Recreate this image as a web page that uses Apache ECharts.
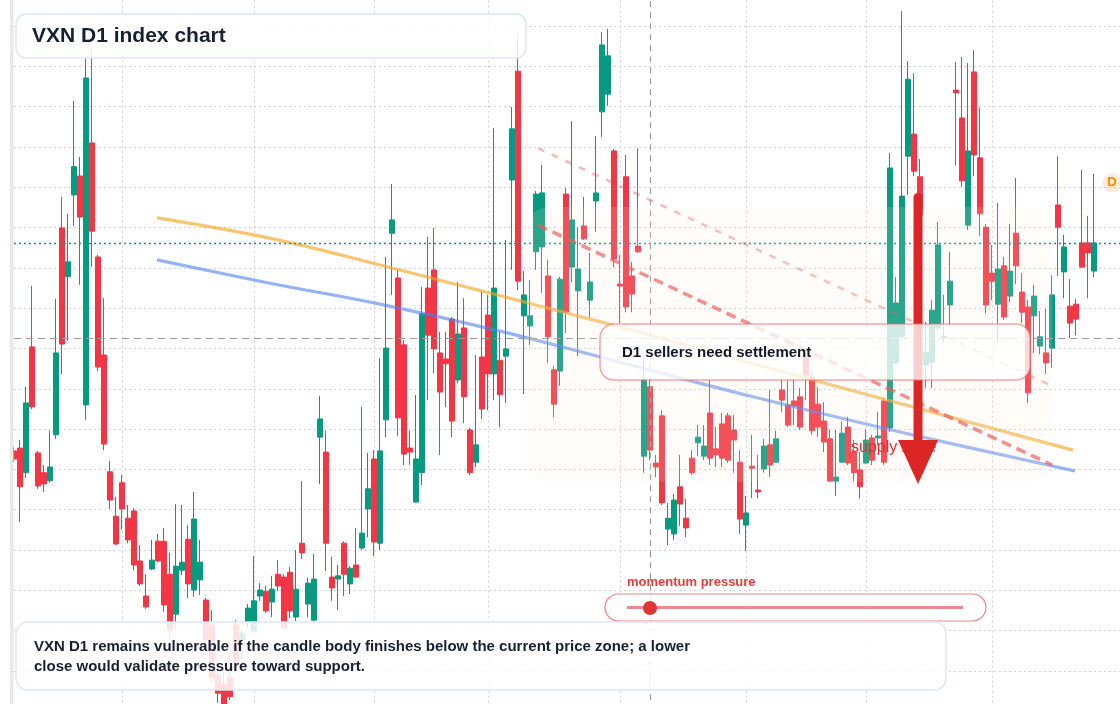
<!DOCTYPE html>
<html>
<head>
<meta charset="utf-8">
<script src="https://cdn.jsdelivr.net/npm/echarts@6/dist/echarts.min.js"></script>
<style>
  html, body { margin: 0; padding: 0; background: #fff; overflow: hidden; width: 1120px; height: 704px; }
  /* the plot runs a little past the visible page on every side except the left */
  #chart { position: absolute; left: 0; top: -15px; width: 1130px; height: 728px; }
</style>
</head>
<body>
<div id="chart"></div>
<script>
// trading sessions per month (last month includes a few empty slots on the right)
const monthNames = ["Jan", "Feb", "Mar", "Apr", "May", "Jun", "Jul", "Aug", "Sep"];
const monthSessions = [18, 22, 20, 19, 22, 21, 20, 21, 23];

const opens = [
  22.46, 22.53, 21.92, 25.04, 22.41, 21.92, 21.72, 22.86, 27.99, 26.78,
  28.81, 29.28, 23.60, 30.10, 27.27, 24.84, 21.94, 20.84, 21.67, 20.79,
  20.97, 19.73, 18.86, 19.53, 20.22, 20.22, 19.40, 18.41, 19.50, 20.27,
  19.01, 19.26, 18.76, 18.14, 16.90, 16.68, 16.85, 18.14, 17.77, 18.21,
  17.99, 18.86, 18.98, 18.71, 19.40, 19.33, 19.45, 18.34, 20.17, 18.66,
  18.26, 22.80, 22.43, 19.33, 19.28, 20.17, 19.16, 19.63, 20.05, 21.02,
  22.26, 20.17, 23.23, 27.86, 26.75, 25.09, 22.53, 21.19, 21.92, 26.50,
  26.95, 24.89, 24.74, 25.73, 24.22, 25.51, 22.98, 22.18, 24.79, 25.83,
  24.37, 24.71, 24.81, 29.18, 31.88, 25.81, 25.56, 27.40, 27.52, 26.80,
  24.47, 24.44, 28.83, 27.02, 26.43, 28.04, 26.20, 28.66, 30.87, 31.31,
  29.90, 26.60, 29.26, 26.80, 27.54, 22.33, 24.05, 22.16, 23.33, 20.52,
  20.40, 21.57, 20.79, 22.28, 22.66, 22.33, 23.40, 22.51, 23.13, 23.33,
  22.98, 22.18, 20.62, 22.08, 21.49, 22.01, 22.61, 22.18, 23.97, 23.60,
  23.70, 23.80, 24.79, 24.29, 23.62, 23.20, 22.76, 21.71, 22.18, 23.05,
  22.43, 21.99, 22.16, 22.78, 22.78, 23.70, 23.03, 24.64, 25.29, 29.77,
  30.32, 29.26, 24.59, 24.66, 25.51, 25.26, 26.08, 31.41, 30.72, 28.06,
  31.86, 29.73, 28.01, 26.87, 26.10, 27.05, 26.30, 27.86, 26.40, 26.03,
  25.81, 25.06, 24.89, 25.01, 28.56, 26.90, 26.05, 26.10, 27.62, 27.62, 26.92
];
const closes = [
  22.26, 21.57, 23.65, 23.55, 21.59, 21.64, 22.06, 24.89, 25.11, 27.15,
  29.51, 28.26, 31.71, 27.91, 24.54, 22.63, 21.24, 20.15, 21.02, 20.25,
  19.63, 19.16, 18.59, 19.75, 19.73, 18.64, 18.02, 19.60, 19.70, 19.16,
  20.77, 19.70, 17.77, 16.83, 16.45, 16.18, 16.36, 17.20, 17.94, 18.56,
  18.74, 19.01, 18.49, 19.03, 19.11, 18.07, 18.49, 19.03, 19.93, 19.18,
  19.28, 23.25, 20.17, 19.06, 19.36, 19.40, 19.55, 19.33, 20.42, 21.52,
  20.20, 22.46, 25.01, 28.19, 23.28, 22.38, 22.43, 22.26, 25.86, 25.33,
  24.99, 23.92, 24.62, 23.20, 25.36, 23.80, 21.92, 22.61, 23.50, 24.37,
  26.50, 23.85, 24.99, 30.45, 26.67, 26.33, 25.81, 28.83, 28.86, 25.29,
  23.62, 26.72, 25.90, 28.19, 26.97, 27.72, 26.65, 28.86, 32.53, 32.26,
  27.22, 26.55, 26.03, 26.35, 27.40, 24.22, 22.48, 22.06, 21.17, 20.79,
  21.24, 21.14, 20.55, 21.92, 22.80, 22.58, 22.28, 22.36, 22.28, 22.23,
  22.73, 20.77, 20.92, 22.03, 21.44, 22.58, 22.11, 22.76, 23.72, 23.10,
  23.57, 23.05, 24.34, 22.96, 23.05, 22.68, 21.71, 21.81, 22.90, 22.16,
  21.92, 21.57, 22.73, 22.23, 22.83, 22.18, 29.48, 26.13, 28.78, 31.68,
  29.40, 28.31, 24.91, 25.95, 27.57, 25.31, 26.67, 31.34, 29.16, 29.90,
  29.80, 28.34, 26.08, 26.67, 26.97, 25.78, 26.92, 27.05, 25.90, 23.90,
  26.30, 25.29, 24.64, 26.33, 28.01, 27.52, 25.63, 25.73, 27.02, 27.37, 27.62
];
const lows = [
  22.18, 20.69, 21.79, 23.50, 21.52, 21.44, 21.67, 22.76, 24.37, 25.19,
  28.04, 26.58, 23.23, 27.02, 24.44, 22.48, 21.02, 20.12, 20.52, 20.17,
  19.50, 19.11, 18.54, 19.50, 19.70, 18.46, 17.77, 18.02, 19.38, 18.81,
  18.84, 18.89, 17.52, 16.73, 16.21, 16.03, 16.28, 17.07, 17.27, 18.07,
  17.94, 18.74, 18.44, 18.34, 18.98, 18.02, 18.31, 18.24, 19.78, 18.34,
  18.26, 21.64, 19.48, 18.74, 18.51, 18.86, 18.91, 19.31, 20.00, 20.32,
  19.85, 20.00, 22.80, 26.33, 22.83, 22.11, 22.11, 21.17, 21.61, 23.72,
  24.39, 22.36, 23.55, 22.80, 24.14, 23.15, 21.86, 22.06, 23.25, 23.47,
  23.72, 23.05, 23.65, 26.95, 26.45, 23.87, 25.09, 26.95, 26.38, 24.64,
  23.30, 24.07, 25.38, 26.65, 24.81, 27.69, 25.76, 27.89, 30.25, 31.02,
  27.02, 25.63, 25.90, 25.90, 27.37, 21.92, 22.23, 21.81, 21.12, 20.12,
  20.25, 20.60, 20.32, 21.86, 22.33, 22.23, 22.11, 22.06, 22.06, 22.16,
  21.92, 20.40, 19.98, 21.29, 21.29, 21.92, 21.81, 22.16, 23.42, 23.05,
  23.10, 22.98, 23.72, 22.86, 22.80, 22.43, 21.69, 21.34, 22.16, 22.11,
  21.71, 21.27, 22.13, 22.11, 22.61, 22.11, 22.93, 24.62, 25.21, 28.81,
  29.28, 27.94, 24.02, 24.02, 25.46, 25.14, 25.58, 29.55, 29.01, 27.94,
  29.28, 27.79, 25.88, 26.20, 25.16, 25.71, 26.15, 26.60, 25.63, 23.65,
  24.89, 24.86, 24.37, 24.52, 26.80, 26.25, 25.26, 25.33, 27.00, 26.25, 26.77
];
const highs = [
  22.56, 22.73, 24.05, 26.55, 22.46, 22.11, 22.96, 26.23, 28.76, 28.34,
  31.14, 29.75, 32.21, 32.43, 27.32, 26.25, 22.21, 21.32, 21.86, 21.12,
  21.04, 20.12, 19.40, 20.25, 20.40, 20.55, 19.93, 21.14, 21.12, 20.62,
  21.44, 20.25, 18.81, 18.51, 17.27, 17.02, 17.40, 18.26, 18.02, 18.66,
  19.85, 19.18, 19.11, 19.36, 19.75, 19.40, 19.58, 20.00, 21.71, 19.31,
  19.90, 23.82, 22.96, 19.83, 19.63, 20.22, 19.60, 20.55, 23.55, 22.41,
  22.48, 24.76, 27.27, 29.08, 26.95, 25.21, 22.96, 23.85, 26.53, 27.77,
  27.99, 25.41, 25.41, 25.78, 26.65, 26.25, 23.03, 24.84, 26.43, 26.33,
  30.47, 25.41, 27.69, 30.99, 32.83, 26.92, 26.70, 28.91, 29.55, 27.20,
  24.57, 26.78, 28.98, 30.64, 28.01, 28.76, 27.37, 30.27, 32.85, 32.93,
  29.95, 27.32, 29.80, 27.15, 29.97, 24.76, 24.22, 22.36, 23.47, 21.17,
  21.39, 22.36, 21.27, 22.48, 23.10, 23.10, 24.22, 23.05, 23.40, 23.40,
  23.35, 22.48, 21.34, 22.86, 22.36, 22.76, 23.97, 22.96, 24.22, 24.22,
  24.22, 24.02, 24.89, 24.42, 24.05, 23.67, 22.98, 22.98, 23.18, 23.30,
  22.73, 22.43, 23.00, 22.86, 23.42, 23.77, 29.85, 26.77, 33.37, 32.13,
  31.83, 29.70, 25.66, 26.20, 28.14, 26.33, 27.39, 32.11, 32.23, 32.08,
  32.40, 30.97, 28.09, 27.57, 28.61, 27.27, 28.09, 29.23, 26.87, 26.20,
  26.58, 25.93, 25.98, 26.82, 29.77, 27.82, 26.72, 26.23, 29.43, 28.29, 29.33
];

// levels and drawings (x = session index, y = index value)
const lastClose = 27.62;
const refLevel = 25.26;
const cursorIndex = 106;
const orangeTrend = [[23.83, 28.24], [43.17, 27.72], [61.0, 27.07], [99.83, 25.58], [121.0, 24.71], [176.5, 22.48]];
const blueTrend = [[23.83, 27.20], [42.67, 26.62], [61.0, 26.10], [81.0, 25.43], [101.0, 24.66], [122.67, 23.82], [147.67, 22.93], [176.83, 21.96]];
const upperDash = [[87.33, 29.97], [173, 24.07]];
const lowerDash = [[87.33, 28.06], [173, 22.11]];
const supplyZone = [[85.5, 28.51], [173.0, 21.69]];
const arrowPos = [150.67, 28.86, 21.64];
const zoneLabelPos = [139.5, 22.53];
const markerD = [183, 29.11];

const dates = [];
const monthStarts = [];
monthNames.forEach((m, k) => {
  if (k > 0) monthStarts.push(dates.length);
  for (let d = 1; d <= monthSessions[k]; d++) dates.push(m + " " + d);
});

const ohlc = opens.map((o, i) => [o, closes[i], lows[i], highs[i]]);

const FONT = '"Liberation Sans", Arial, sans-serif';
const OY = 15; // the chart div sits 15px above the page top
const gridDots = { color: "#d2d2d2", type: [2, 3], width: 1 };

const chart = echarts.init(document.getElementById("chart"));

chart.setOption({
  animation: false,
  backgroundColor: "#ffffff",
  grid: { left: 14, right: 6, top: 0.7, bottom: 1.7 },
  xAxis: [
    {
      type: "category",
      data: dates,
      boundaryGap: false,
      axisLine: { show: false },
      axisTick: { show: false },
      axisLabel: { show: false },
      splitLine: {
        show: true,
        interval: (idx) => monthStarts.includes(idx),
        lineStyle: gridDots,
      },
    },
    { type: "value", min: 0, max: dates.length - 1, show: false },
  ],
  yAxis: {
    type: "value",
    min: 16,
    max: 34,
    interval: 1,
    axisLine: { show: false },
    axisTick: { show: false },
    axisLabel: { show: false },
    splitLine: { lineStyle: gridDots },
  },
  series: [
    {
      name: "VXN",
      type: "candlestick",
      data: ohlc,
      barWidth: 5,
      itemStyle: {
        color: "#089981",
        color0: "#f23645",
        borderColor: "#089981",
        borderColor0: "#f23645",
        borderWidth: 1,
      },
      markLine: {
        silent: true,
        symbol: ["none", "none"],
        label: { show: false },
        data: [
          { yAxis: lastClose, lineStyle: { color: "#089981", type: [2, 3], width: 1.3 } },
          { yAxis: refLevel, lineStyle: { color: "#9a9a9a", type: [7, 5], width: 1.2 } },
          { xAxis: dates[cursorIndex], lineStyle: { color: "#9a9a9a", type: [6, 5], width: 1.2 } },
        ],
      },
      markPoint: {
        silent: true,
        data: [
          {
            coord: [dates[markerD[0]], markerD[1]],
            symbol: "circle",
            symbolSize: 19,
            itemStyle: { color: "rgba(255,190,120,0.3)" },
            label: { show: true, formatter: "D", color: "#f08c00", fontWeight: "bold", fontSize: 13, fontFamily: FONT },
          },
        ],
      },
    },
    {
      type: "line",
      xAxisIndex: 1,
      data: orangeTrend,
      smooth: 0.4,
      showSymbol: false,
      silent: true,
      z: 3,
      lineStyle: { color: "rgba(245,166,35,0.65)", width: 3.2 },
    },
    {
      type: "line",
      xAxisIndex: 1,
      data: blueTrend,
      smooth: 0.4,
      showSymbol: false,
      silent: true,
      z: 3,
      lineStyle: { color: "rgba(76,128,240,0.6)", width: 3.2 },
    },
    {
      type: "line",
      xAxisIndex: 1,
      data: upperDash,
      showSymbol: false,
      silent: true,
      z: 3,
      lineStyle: { color: "rgba(232,70,70,0.38)", width: 2.5, type: [7, 8] },
    },
    {
      type: "line",
      xAxisIndex: 1,
      data: lowerDash,
      showSymbol: false,
      silent: true,
      z: 3,
      lineStyle: { color: "rgba(232,70,70,0.68)", width: 3.5, type: [10, 6] },
    },
    {
      type: "custom",
      xAxisIndex: 1,
      silent: true,
      z: 5,
      data: [[arrowPos[0], arrowPos[1]]],
      renderItem: (params, api) => {
        const tl = api.coord(supplyZone[0]);
        const br = api.coord(supplyZone[1]);
        const top = api.coord([arrowPos[0], arrowPos[1]]);
        const tip = api.coord([arrowPos[0], arrowPos[2]]);
        const lbl = api.coord(zoneLabelPos);
        return {
          type: "group",
          children: [
            {
              type: "rect",
              shape: { x: tl[0], y: tl[1], width: br[0] - tl[0], height: br[1] - tl[1], r: 22 },
              style: { fill: "rgba(255,235,215,0.15)" },
            },
            {
              type: "text",
              style: {
                text: "supply zone",
                x: lbl[0],
                y: lbl[1],
                fill: "#e03131",
                font: "16px " + FONT,
                align: "left",
                verticalAlign: "middle",
              },
            },
            {
              type: "rect",
              shape: { x: top[0] - 4.5, y: top[1], width: 9, height: tip[1] - top[1] - 40, r: [4.5, 4.5, 0, 0] },
              style: { fill: "#dc2626" },
            },
            {
              type: "polygon",
              shape: { points: [[top[0] - 20, tip[1] - 44], [top[0] + 20, tip[1] - 44], [top[0], tip[1]]] },
              style: { fill: "#dc2626" },
            },
          ],
        };
      },
    },
  ],
  graphic: [
    { type: "rect", z: 100, shape: { x: 10, y: 0, width: 3.5, height: 704 + 2 * OY }, style: { fill: "#e8e8e8" } },
    // title box
    {
      type: "rect", z: 100,
      shape: { x: 16, y: 14 + OY, width: 510, height: 44, r: 10 },
      style: { fill: "rgba(255,255,255,0.85)", stroke: "#dbe6f7", lineWidth: 1.5 },
    },
    {
      type: "text", z: 101, x: 32, y: 36 + OY,
      style: { text: "VXN D1 index chart", font: "bold 21px " + FONT, fill: "#172033", verticalAlign: "middle" },
    },
    // callout
    {
      type: "rect", z: 100,
      shape: { x: 600, y: 324 + OY, width: 430, height: 56, r: 14 },
      style: { fill: "rgba(255,255,255,0.78)", stroke: "rgba(238,110,110,0.6)", lineWidth: 1.5 },
    },
    {
      type: "text", z: 101, x: 622, y: 353 + OY,
      style: { text: "D1 sellers need settlement", font: "bold 15px " + FONT, fill: "#111827", verticalAlign: "middle" },
    },
    // momentum widget
    {
      type: "text", z: 101, x: 627, y: 582 + OY,
      style: { text: "momentum pressure", font: "bold 13px " + FONT, fill: "#e23e3e", verticalAlign: "middle" },
    },
    {
      type: "rect", z: 100,
      shape: { x: 605, y: 594 + OY, width: 381, height: 27, r: 13.5 },
      style: { fill: "rgba(255,255,255,0.8)", stroke: "rgba(230,80,80,0.7)", lineWidth: 1.2 },
    },
    {
      type: "line", z: 101,
      shape: { x1: 627, y1: 607.5 + OY, x2: 963, y2: 607.5 + OY },
      style: { stroke: "rgba(230,90,90,0.7)", lineWidth: 3 },
    },
    { type: "circle", z: 102, shape: { cx: 650, cy: 608 + OY, r: 7 }, style: { fill: "#e03535" } },
    // note box
    {
      type: "rect", z: 100,
      shape: { x: 16, y: 622 + OY, width: 930, height: 68, r: 12 },
      style: { fill: "rgba(255,255,255,0.85)", stroke: "#dbe6f7", lineWidth: 1.5 },
    },
    {
      type: "text", z: 101, x: 34, y: 647 + OY,
      style: {
        text: "VXN D1 remains vulnerable if the candle body finishes below the current price zone; a lower",
        font: "bold 15px " + FONT, fill: "#172033", verticalAlign: "middle",
      },
    },
    {
      type: "text", z: 101, x: 34, y: 667 + OY,
      style: {
        text: "close would validate pressure toward support.",
        font: "bold 15px " + FONT, fill: "#172033", verticalAlign: "middle",
      },
    },
  ],
});
</script>
</body>
</html>
